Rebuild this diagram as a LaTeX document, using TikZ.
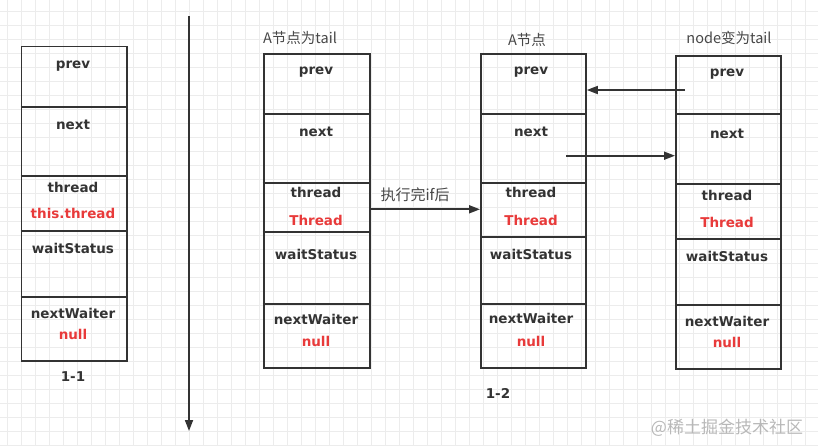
\documentclass[tikz,border=0pt]{standalone}
\usepackage{fontspec}
\setmainfont{DejaVu Sans}
\newfontfamily\cjk{Noto Sans CJK SC}
\usetikzlibrary{arrows.meta}
\definecolor{ink}{HTML}{333333}
\definecolor{redval}{HTML}{E83A3A}
\definecolor{gridc}{HTML}{ECECEC}

\begin{document}
\begin{tikzpicture}[x=1pt,y=-1pt,
    cell/.style={draw=ink,line width=1.8pt,inner sep=0pt,anchor=north west},
    field/.style={font=\bfseries\fontsize{13.5}{16}\selectfont,text=ink,anchor=mid,yshift=-3pt},
    value/.style={field,text=redval},
    title/.style={font=\cjk\fontsize{14.5}{17}\selectfont,text=ink!90},
    link/.style={draw=ink,line width=1.7pt,-{Triangle[length=11pt,width=8pt]}}]
    \useasboundingbox (0,0) rectangle (818,445);
    % background grid
    \foreach \gx in {7,21,...,819} \draw[gridc,line width=0.8pt] (\gx,0) -- (\gx,445);
    \foreach \gy in {11,25,...,445} \draw[gridc,line width=0.8pt] (0,\gy) -- (818,\gy);

    % 1-1
    \node[cell,minimum width=105.5pt,minimum height=314.5pt] (b1) at (20.5,45.5) {};
    \foreach \dy in {106.7,175.7,230.7,296.7} \draw[ink,line width=1.8pt] (20.5,\dy) -- (126,\dy);
    \foreach \t/\y in {prev/63,next/124,thread/187,waitStatus/248,nextWaiter/313}
        \node[field] (b1-\t) at (73,\y) {\t};
    \node[value] (b1-thread-v) at (73,213) {this.thread};
    \node[value] (b1-waiter-v) at (73,334) {null};
    \node[field] (cap11) at (73,376) {1-1};

    % divider
    \coordinate (sep-top) at (189,16);
    \coordinate (sep-bot) at (189,431);
    \draw[link] (sep-top) -- (sep-bot);

    % A is tail
    \node[title] (b2-title) at (300,38) {A节点为tail};
    \node[cell,minimum width=106.3pt,minimum height=314.6pt] (b2) at (262.7,52.7) {};
    \foreach \dy in {114,182.7,231.7,304} \draw[ink,line width=1.8pt] (262.7,\dy) -- (369,\dy);
    \foreach \t/\y in {prev/69,next/131,thread/192,waitStatus/254,nextWaiter/319}
        \node[field] (b2-\t) at (316,\y) {\t};
    \node[value] (b2-thread-v) at (316,220) {Thread};
    \node[value] (b2-waiter-v) at (316,341) {null};

    % node A
    \node[title] (b3-title) at (527,40) {A节点};
    \node[cell,minimum width=105pt,minimum height=314.6pt] (b3) at (480,52.7) {};
    \foreach \dy in {114,182.7,236.7,304} \draw[ink,line width=1.8pt] (480,\dy) -- (585,\dy);
    \foreach \t/\y in {prev/69,next/131,thread/192,waitStatus/254,nextWaiter/318}
        \node[field] (b3-\t) at (531,\y) {\t};
    \node[value] (b3-thread-v) at (531,220) {Thread};
    \node[value] (b3-waiter-v) at (531,341) {null};
    \node[field] (cap12) at (498,393) {1-2};

    % node is tail
    \node[title] (b4-title) at (729,38) {node变为tail};
    \node[cell,minimum width=105pt,minimum height=313.3pt] (b4) at (675,55) {};
    \foreach \dy in {114.3,184,239,305} \draw[ink,line width=1.8pt] (675,\dy) -- (780,\dy);
    \foreach \t/\y in {prev/71,next/133,thread/195,waitStatus/256,nextWaiter/321}
        \node[field] (b4-\t) at (727,\y) {\t};
    \node[value] (b4-thread-v) at (727,222) {Thread};
    \node[value] (b4-waiter-v) at (727,342) {null};

    % links
    \coordinate (a-out) at (369,209.3);
    \draw[link] (a-out) -- (a-out -| b3.west);
    \node[title,font=\cjk\fontsize{15}{17}\selectfont] (after) at (415,195) {执行完if后};
    \coordinate (p-out) at (685,90);
    \draw[link] (p-out) -- (p-out -| b3.east);
    \coordinate (n-out) at (566,155.7);
    \draw[link] (n-out) -- (n-out -| b4.west);

    \node[font=\cjk\fontsize{17}{20}\selectfont,text=black!28] (mark) at (727,428) {@稀土掘金技术社区};
\end{tikzpicture}
\end{document}
